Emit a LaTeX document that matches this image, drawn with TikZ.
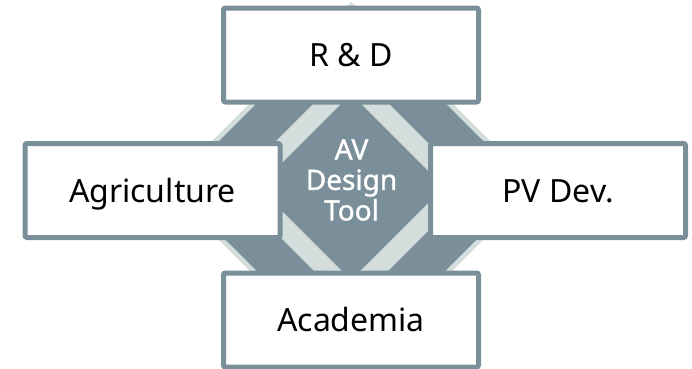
\documentclass[tikz,border=0pt]{standalone}
\usepackage{fontspec}
\setmainfont{Noto Sans}
\newfontfamily\corefont[FakeBold=1.2]{Noto Sans}
\definecolor{slate}{RGB}{122,143,153}
\definecolor{mist}{RGB}{211,222,220}
\begin{document}
\begin{tikzpicture}[x=1pt,y=1pt,
  boxnode/.style={draw=slate, fill=white, line width=5pt, rounded corners=2pt,
    minimum width=255pt, minimum height=94pt, inner sep=0pt,
    text height=23pt, text depth=0pt, font=\fontsize{32}{38}\selectfont},
  corelabel/.style={text=white, align=center, inner sep=0pt,
    font=\corefont\fontsize{28}{30.5}\selectfont}]
\useasboundingbox (0,0) rectangle (692,368);
\coordinate (c) at (351,181);
% layered diamonds
\fill[mist]  ([yshift=185]c) -- ([xshift=185]c) -- ([yshift=-185]c) -- ([xshift=-185]c) -- cycle;
\fill[slate] ([yshift=178]c) -- ([xshift=178]c) -- ([yshift=-178]c) -- ([xshift=-178]c) -- cycle;
\fill[mist]  ([yshift=121]c) -- ([xshift=121]c) -- ([yshift=-121]c) -- ([xshift=-121]c) -- cycle;
\fill[slate] ([yshift=93]c) -- ([xshift=93]c) -- ([yshift=-93]c) -- ([xshift=-93]c) -- cycle;
% boxes
\node[boxnode] (rd)   at (351,313)   {R \& D};
\node[boxnode] (agri) at (152.5,177.5) {Agriculture};
\node[boxnode] (pv)   at (558,177.5) {PV Dev.};
\node[boxnode] (acad) at (351,48)    {Academia};
\node[corelabel] (core) at (351.5,188) {AV\\Design\\Tool};
\end{tikzpicture}
\end{document}
